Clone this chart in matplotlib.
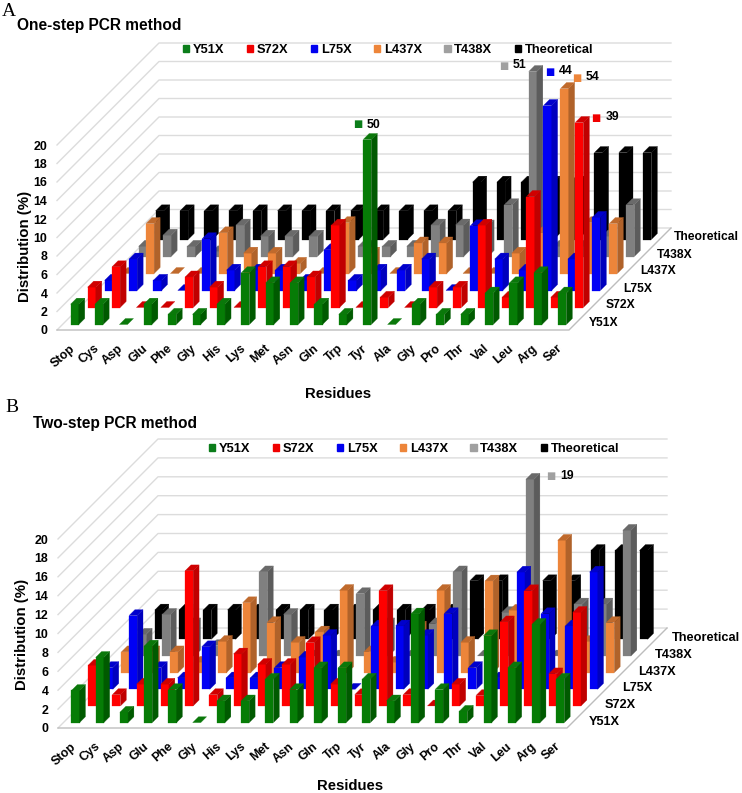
import matplotlib
matplotlib.use("Agg")
import matplotlib.pyplot as plt
from matplotlib.patches import Polygon, Patch
from matplotlib.transforms import ScaledTranslation

plt.rcParams['font.family'] = ['Liberation Sans', 'DejaVu Sans']
plt.rcParams['font.weight'] = 'bold'

residues = ["Stop", "Cys", "Asp", "Glu", "Phe", "Gly", "His", "Lys", "Met", "Asn", "Gln",
            "Trp", "Tyr", "Ala", "Gly", "Pro", "Thr", "Val", "Leu", "Arg", "Ser"]
series_names = ["Y51X", "S72X", "L75X", "L437X", "T438X", "Theoretical"]

a_y51x = [2.2, 2.2, 0, 2.2, 1.1, 1.1, 2.2, 5.6, 4.5, 4.5, 2.2, 1.1, 50, 0, 2.2, 1.1, 1.1, 3.4, 4.5, 5.6, 3.4]
a_s72x = [2.2, 4.4, 0, 0, 3.3, 2.2, 0, 4.4, 4.4, 3.3, 8.9, 0, 1.1, 0, 2.2, 2.2, 8.9, 1.1, 12, 1.1, 39]
a_l75x = [1.1, 3.4, 1.1, 0, 5.6, 2.2, 2.2, 2.2, 1.1, 4.4, 1.1, 2.2, 2.2, 3.4, 0, 7, 3.4, 2.2, 44, 3.4, 7.9]
a_l437x = [0, 5.4, 0, 0, 4.4, 2.2, 2.2, 1.1, 0, 5.5, 2.2, 0, 3.3, 3.3, 0, 0, 2.2, 4.4, 54, 5.5, 5.4]
a_t438x = [1.1, 2.3, 1.1, 0.5, 3.4, 2.2, 2.2, 2.2, 0, 1.1, 1.1, 1.1, 3.4, 3.4, 3.3, 5.6, 51, 1.1, 1.1, 2.2, 5.6]

b_y51x = [3.4, 6.9, 1.1, 8.1, 3.5, 0, 2.3, 2.3, 4.6, 3.5, 5.8, 5.8, 4.6, 2.3, 11.5, 3.5, 1.2, 9.2, 5.8, 10.4, 4.6]
b_s72x = [4.3, 1.2, 2.3, 2.3, 14.3, 1.2, 5.5, 4.4, 4.4, 6.7, 2.3, 1.2, 12.2, 1.2, 0, 2.3, 1.1, 8.9, 12.2, 3.4, 9.9]
b_l75x = [2.3, 7.8, 2.3, 1.2, 4.5, 1.2, 1.2, 2.3, 3.4, 5.7, 0, 6.7, 6.7, 5.7, 8, 2.3, 1.2, 12.4, 8, 6.7, 12.4]
b_l437x = [2.2, 2.2, 2.2, 1.1, 3.3, 7.4, 5.3, 3.2, 4.3, 8.7, 2.2, 1.1, 4.8, 8.7, 3.2, 9.7, 6.6, 5, 14, 3.3, 5.3]
b_t438x = [2.3, 4.4, 3.4, 1.1, 0, 8.9, 4.4, 0, 0, 6.6, 3.4, 0, 3.4, 8.9, 0, 4.6, 18.7, 0, 5.5, 5.5, 13.3]

theoretical = [3.1, 3.1, 3.1, 3.1, 3.1, 3.1, 3.1, 3.1, 3.1, 3.1, 3.1, 3.1, 3.1,
               6.2, 6.2, 6.2, 6.2, 6.2, 9.4, 9.4, 9.4]

# front, top, side shades per series
colors = [("#067C06", "#0A780A", "#005A00"),
          ("#FF0000", "#D00000", "#C00000"),
          ("#0000F5", "#0000CC", "#0000BE"),
          ("#ED853A", "#C06A2C", "#B0622A"),
          ("#808080", "#6A6A6A", "#5C5C5C"),
          ("#000000", "#000000", "#000000")]
legend_colors = ["#0B7D1A", "#F00000", "#0000F0", "#ED853A", "#A0A0A0", "#000000"]

W, H = 742, 793
YMAX = 20
fig = plt.figure(figsize=(W / 100, H / 100), dpi=100, facecolor="white")


def fx(p):
    return p / W


def fy(p):
    return 1 - p / H


def make_panel(rect, depth_px, rows, title, title_xy, letter, letter_xy, legend_xy,
               xlabel_xy, ylabel_xy, labels, row_font, row_off):
    x0, x1, ytop, ybot = rect
    ax = fig.add_axes([fx(x0), fy(ybot), fx(x1 - x0), (ybot - ytop) / H])
    ax.set_xlim(0, len(residues))
    ax.set_ylim(0, YMAX)
    ax.patch.set_visible(False)
    for s in ax.spines.values():
        s.set_visible(False)

    DX = depth_px / ((x1 - x0) / len(residues))
    DY = depth_px / ((ybot - ytop) / YMAX)

    def pr(x, y, d):
        return (x + d * DX, y + d * DY)

    # walls
    for lev in range(0, YMAX + 1, 2):
        ax.plot(*zip(pr(0, lev, 0), pr(0, lev, 1), pr(len(residues), lev, 1)),
                color="#DCDCDC", lw=1.0, clip_on=False, zorder=1)
    ax.plot(*zip(pr(0, 0, 0), pr(len(residues), 0, 0), pr(len(residues), 0, 1)),
            color="#BDBDBD", lw=1.0, clip_on=False, zorder=1)

    # bars, back row first
    n = len(rows)
    zo = 2
    for r in range(n - 1, -1, -1):
        front, top, side = colors[r]
        d0 = (r + 11 / 34) / n
        d1 = (r + 23 / 34) / n
        for i, v in enumerate(rows[r]):
            h = min(v, YMAX)
            xl, xr = i + 1 / 3, i + 2 / 3
            if h > 0:
                ax.add_patch(Polygon([pr(xl, 0, d0), pr(xr, 0, d0), pr(xr, h, d0), pr(xl, h, d0)],
                                     closed=True, fc=front, ec=front, lw=0.2, clip_on=False, zorder=zo))
                ax.add_patch(Polygon([pr(xr, 0, d0), pr(xr, 0, d1), pr(xr, h, d1), pr(xr, h, d0)],
                                     closed=True, fc=side, ec=side, lw=0.2, clip_on=False, zorder=zo))
            ax.add_patch(Polygon([pr(xl, h, d0), pr(xr, h, d0), pr(xr, h, d1), pr(xl, h, d1)],
                                 closed=True, fc=top, ec=top, lw=0.2, clip_on=False, zorder=zo))
        zo += 1

    # axis ticks
    ax.set_yticks(range(0, YMAX + 1, 2))
    ax.set_xticks([i + 0.5 for i in range(len(residues))])
    ax.set_xticklabels(residues, rotation=41, ha="right", va="top", rotation_mode="anchor")
    shift = ScaledTranslation(-4 / 100, 0, fig.dpi_scale_trans)
    for lab in ax.get_xticklabels():
        lab.set_transform(lab.get_transform() + shift)
    ax.tick_params(axis="y", length=0, pad=7, labelsize=8.9)
    ax.tick_params(axis="x", length=0, pad=9, labelsize=8.9)
    ax.set_ylabel("Distribution (%)", fontsize=10.8, fontweight="bold", va="center")
    ax.yaxis.set_label_coords((ylabel_xy[0] - x0) / (x1 - x0), (ybot - ylabel_xy[1]) / (ybot - ytop))
    ax.set_xlabel("Residues", fontsize=10.7, fontweight="bold", va="center")
    ax.xaxis.set_label_coords((xlabel_xy[0] - x0) / (x1 - x0), (ybot - xlabel_xy[1]) / (ybot - ytop))

    # depth axis labels
    for r, name in enumerate(series_names):
        xy = pr(len(residues), 0, (r + 0.5) / n)
        ax.annotate(name, xy=xy, xytext=row_off, textcoords="offset pixels", ha="left", va="center",
                    fontsize=row_font, annotation_clip=False, zorder=30)

    # legend
    handles = [Patch(facecolor=c, edgecolor=c, label=nm) for c, nm in zip(legend_colors, series_names)]
    ax.legend(handles=handles, ncol=6, loc="center", bbox_to_anchor=(fx(legend_xy[0]), fy(legend_xy[1])),
              bbox_transform=fig.transFigure, frameon=False, handlelength=0.5, handleheight=0.5,
              handletextpad=0.28, columnspacing=1.72, prop={"size": 9.3, "weight": "bold"},
              borderpad=0, borderaxespad=0)

    # off-scale value labels
    for r, i, dx, dy in labels:
        v = rows[r][i]
        h = min(v, YMAX)
        d0 = (r + 11 / 34) / n
        xy = pr(i + 1 / 3, h, d0)
        ax.annotate("\u25A0", xy=xy, xytext=(dx, dy), textcoords="offset pixels", ha="center", va="center",
                    fontsize=7, color=legend_colors[r], family="DejaVu Sans", annotation_clip=False, zorder=30)
        ax.annotate(f"{v:.0f}", xy=xy, xytext=(dx + 9, dy), textcoords="offset pixels", ha="left", va="center",
                    fontsize=8.8, annotation_clip=False, zorder=30)

    fig.text(fx(title_xy[0]), fy(title_xy[1]), title, fontsize=11.2, fontweight="bold", ha="left", va="center")
    fig.text(fx(letter_xy[0]), fy(letter_xy[1]), letter, fontsize=14, fontweight="normal",
             family="Liberation Serif", ha="left", va="center")
    return ax


make_panel((57, 569, 145, 330), 102, [a_y51x, a_s72x, a_l75x, a_l437x, a_t438x, theoretical],
           "One-step PCR method", (17, 25.5), "A", (2, 11), (388, 50), (338, 394), (25, 246),
           [(0, 12, -5.5, 15), (4, 16, -25, 6), (2, 18, 6.4, 34), (3, 18, 16, 11), (1, 20, 21, 5)],
           8.7, (11.5, -1))
make_panel((58, 567, 539, 728), 100, [b_y51x, b_s72x, b_l75x, b_l437x, b_t438x, theoretical],
           "Two-step PCR method", (33, 423), "B", (5, 408), (414, 449), (350, 786), (22, 634),
           [(4, 16, 25, 3)], 9.2, (13, -2))

fig.savefig("out.png", dpi=100)
